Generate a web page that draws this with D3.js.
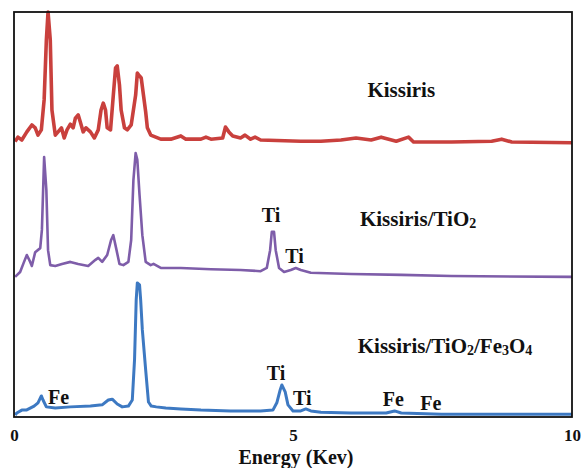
<!DOCTYPE html>
<html>
<head>
<meta charset="utf-8">
<script src="https://cdn.jsdelivr.net/npm/d3@7"></script>
<style>
  body { margin: 0; background: #fff; }
  text { font-family: "Liberation Serif", "Times New Roman", serif; font-weight: bold; fill: #111; }
</style>
</head>
<body>
<div id="chart"></div>
<script>
var svgWidth = 585;
var svgHeight = 468;

var margin = { top: 12, right: 13, bottom: 51, left: 14 };

var width = svgWidth - margin.left - margin.right;
var height = svgHeight - margin.top - margin.bottom;

// x ticks
var xTicks = [0, 5, 10];

// vertical offset of each spectrum (stacked)
var offsets = { kissiris: 66, tio2: 34, fe3o4: 0 };

// Kissiris (red)
var kissirisEnergy = [0.02, 0.07, 0.14, 0.23, 0.32, 0.38, 0.43, 0.49, 0.54, 0.58, 0.61, 0.65, 0.68, 0.74, 0.79, 0.85,
  0.90, 0.95, 1.01, 1.06, 1.10, 1.15, 1.19, 1.24, 1.29, 1.37, 1.44, 1.51, 1.56, 1.60, 1.64, 1.67, 1.73, 1.78, 1.82,
  1.85, 1.89, 1.92, 1.98, 2.03, 2.10, 2.18, 2.21, 2.25, 2.28, 2.32, 2.36, 2.39, 2.45, 2.54, 2.63, 2.81, 2.99, 3.08,
  3.35, 3.44, 3.53, 3.74, 3.79, 3.85, 3.92, 4.06, 4.14, 4.24, 4.32, 4.42, 5.14, 5.50, 5.86, 6.13, 6.40, 6.58, 6.85,
  7.07, 7.16, 7.84, 8.56, 8.74, 8.92, 10.0];
var kissirisCounts = [2.0, 3.1, 2.4, 4.4, 6.1, 5.4, 3.6, 4.9, 12.3, 27.1, 34.0, 27.1, 9.8, 3.6, 4.4, 5.4,
  2.9, 4.9, 6.3, 5.4, 7.8, 8.6, 6.8, 4.4, 5.4, 4.4, 2.9, 4.9, 9.8, 11.5, 9.8, 5.4, 4.9, 13.5, 20.2,
  20.7, 16.0, 9.8, 5.4, 4.9, 6.1, 13.5, 18.9, 18.2, 17.7, 13.5, 9.3, 5.4, 3.6, 3.1, 2.6, 2.6, 3.4, 2.6,
  2.6, 3.1, 2.6, 2.9, 5.6, 4.4, 3.4, 2.9, 3.6, 2.6, 3.1, 2.4, 2.1, 2.1, 2.4, 2.9, 2.4, 3.1, 2.1,
  3.1, 1.9, 1.9, 2.1, 2.6, 1.9, 1.7];

// Kissiris/TiO2 (purple)
var tio2Energy = [0.02, 0.11, 0.18, 0.23, 0.29, 0.32, 0.38, 0.47, 0.50, 0.54, 0.58, 0.61, 0.65, 0.74, 0.86, 1.01,
  1.15, 1.33, 1.46, 1.51, 1.58, 1.67, 1.74, 1.78, 1.83, 1.89, 1.96, 2.05, 2.10, 2.14, 2.18, 2.21, 2.25, 2.30, 2.36,
  2.45, 2.50, 2.63, 2.99, 3.53, 4.06, 4.42, 4.53, 4.59, 4.62, 4.66, 4.69, 4.75, 4.84, 4.96, 5.05, 5.14, 5.32, 6.04,
  6.94, 7.84, 10.0];
var tio2Counts = [0.6, 1.8, 4.3, 6.0, 4.3, 3.3, 6.7, 7.7, 12.2, 30.2, 22.0, 7.2, 3.5, 3.3, 3.8, 4.3,
  3.8, 3.3, 4.8, 5.3, 4.3, 6.0, 9.7, 10.9, 7.7, 3.8, 3.5, 4.3, 9.7, 24.5, 31.2, 29.5, 20.8, 10.9, 4.3,
  3.5, 3.8, 2.8, 2.8, 2.5, 2.3, 2.0, 2.8, 7.2, 11.7, 11.7, 7.2, 2.8, 1.8, 2.3, 2.8, 2.3, 1.6, 1.3,
  1.1, 0.8, 0.6];

// Kissiris/TiO2/Fe3O4 (blue)
var fe3o4Energy = [0.02, 0.05, 0.14, 0.22, 0.29, 0.36, 0.43, 0.49, 0.52, 0.58, 0.74, 1.01, 1.37, 1.58, 1.69, 1.76,
  1.85, 1.94, 2.05, 2.12, 2.16, 2.19, 2.21, 2.25, 2.27, 2.30, 2.36, 2.41, 2.46, 2.55, 2.72, 2.99, 3.35, 3.88, 4.42,
  4.64, 4.71, 4.77, 4.80, 4.86, 4.91, 5.00, 5.14, 5.23, 5.32, 5.50, 6.04, 6.67, 6.82, 6.94, 7.66, 8.74, 10.0];
var fe3o4Counts = [0.5, 1.0, 1.7, 1.7, 2.2, 2.7, 3.5, 5.2, 4.2, 2.5, 2.2, 2.5, 2.7, 3.0, 4.2, 4.4,
  3.2, 2.5, 2.7, 4.2, 14.1, 28.9, 33.1, 32.6, 28.9, 21.5, 11.6, 3.7, 2.7, 2.5, 2.2, 2.0, 1.7, 1.5, 1.5,
  1.7, 3.5, 6.7, 7.9, 6.2, 3.0, 1.5, 1.5, 2.0, 1.5, 1.2, 1.0, 1.0, 1.5, 1.0, 0.7, 0.7, 0.7];

// peak annotations: [label, energy, intensity]
var peakLabels = [
  ["Ti", 4.44, 48.1], ["Ti", 4.86, 38.0],
  ["Fe", 0.61, 3.2], ["Ti", 4.53, 9.1], ["Ti", 5.0, 3.0], ["Fe", 6.61, 2.7], ["Fe", 7.28, 1.7]
];

var svg = d3.select("#chart")
  .append("svg")
  .attr("width", svgWidth)
  .attr("height", svgHeight);

var chartGroup = svg.append("g")
  .attr("transform", `translate(${margin.left}, ${margin.top})`);

var xLinearScale = d3.scaleLinear().domain([0, 10]).range([0, width]);
var yLinearScale = d3.scaleLinear().domain([0, 100]).range([height, 0]);

// spectra
var spectra = [
  { name: "kissiris", energy: kissirisEnergy, counts: kissirisCounts, color: "#c9403d", w: 3.6 },
  { name: "tio2", energy: tio2Energy, counts: tio2Counts, color: "#7e5da9", w: 2.6 },
  { name: "fe3o4", energy: fe3o4Energy, counts: fe3o4Counts, color: "#3d79c2", w: 3 }
];

spectra.forEach(function(s) {
  var line = d3.line()
    .x(function(d, i) { return xLinearScale(s.energy[i]); })
    .y(function(d) { return yLinearScale(d + offsets[s.name]); });
  chartGroup.append("path")
    .datum(s.counts)
    .attr("d", line)
    .attr("fill", "none")
    .attr("stroke", s.color)
    .attr("stroke-width", s.w)
    .attr("stroke-linejoin", "round");
});

// frame
chartGroup.append("rect")
  .attr("width", width)
  .attr("height", height)
  .attr("fill", "none")
  .attr("stroke", "#111")
  .attr("stroke-width", 1.8);

// x axis
var bottomAxis = d3.axisBottom(xLinearScale)
  .tickValues(xTicks)
  .tickSize(0)
  .tickPadding(12)
  .tickFormat(d3.format("d"));

var xAxis = chartGroup.append("g")
  .attr("transform", `translate(0, ${height})`)
  .call(bottomAxis);
xAxis.select(".domain").remove();
xAxis.selectAll("text")
  .attr("font-family", null)
  .style("font-size", "17px")
  .style("fill", "#111");

chartGroup.append("text")
  .attr("x", xLinearScale(5) + 3)
  .attr("y", height + 47)
  .attr("text-anchor", "middle")
  .style("font-size", "20px")
  .text("Energy (Kev)");

// series labels
chartGroup.append("text")
  .attr("x", xLinearScale(6.94))
  .attr("y", yLinearScale(79))
  .attr("text-anchor", "middle")
  .style("font-size", "21px")
  .text("Kissiris");

var tio2Label = chartGroup.append("text")
  .attr("x", xLinearScale(6.2))
  .attr("y", yLinearScale(47.2))
  .style("font-size", "21px");
tio2Label.append("tspan").text("Kissiris/TiO");
tio2Label.append("tspan").attr("dy", 2).style("font-size", "14px").text("2");

var feLabel = chartGroup.append("text")
  .attr("x", xLinearScale(6.16))
  .attr("y", yLinearScale(15.8))
  .style("font-size", "21px");
feLabel.append("tspan").text("Kissiris/TiO");
feLabel.append("tspan").attr("dy", 2).style("font-size", "14px").text("2");
feLabel.append("tspan").attr("dy", -2).text("/Fe");
feLabel.append("tspan").attr("dy", 2).style("font-size", "14px").text("3");
feLabel.append("tspan").attr("dy", -2).text("O");
feLabel.append("tspan").attr("dy", 2).style("font-size", "14px").text("4");

// peak labels
chartGroup.selectAll(".peak")
  .data(peakLabels)
  .enter()
  .append("text")
  .classed("peak", true)
  .attr("x", d => xLinearScale(d[1]))
  .attr("y", d => yLinearScale(d[2]))
  .style("font-size", "20px")
  .text(d => d[0]);
</script>
</body>
</html>
